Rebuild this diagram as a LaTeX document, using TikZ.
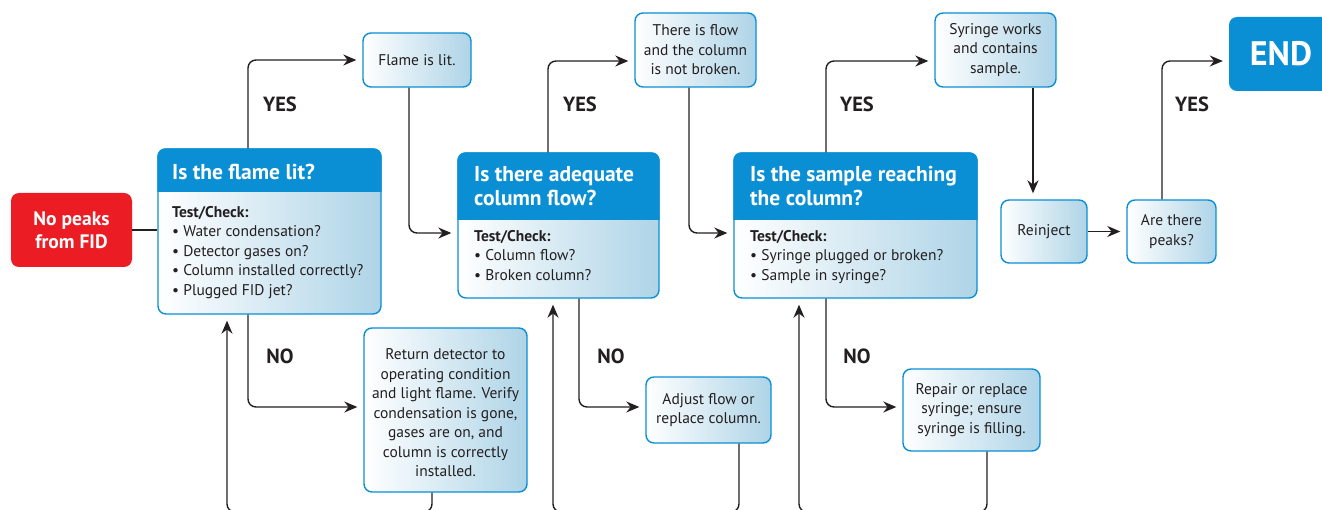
\documentclass[tikz,border=0pt]{standalone}
\usepackage{fontspec}
\setmainfont{PT Sans}
\usetikzlibrary{arrows.meta,calc}
\definecolor{bl}{HTML}{0A8FD5}
\definecolor{lb}{HTML}{AED4E7}
\definecolor{rd}{HTML}{EC1C24}
\definecolor{ink}{HTML}{231F20}
\tikzset{
  box/.style={draw=bl, line width=1.4pt, rounded corners=8pt, left color=white, right color=lb,
    inner sep=0pt, align=center, text=ink, font=\fontsize{15.5}{19.5}\selectfont},
  dec/.style={draw=bl, line width=1.4pt, rounded corners=8pt, left color=white, right color=lb, inner sep=0pt},
  redbox/.style={fill=rd, rounded corners=8pt, inner sep=0pt, align=center, text=white,
    font=\fontsize{19.5}{23}\selectfont\bfseries},
  endbox/.style={fill=bl, rounded corners=8pt, inner sep=0pt, text=white,
    font=\fontsize{34}{38}\selectfont\bfseries},
  htext/.style={inner sep=0pt, align=left, text=white, font=\fontsize{21.5}{24.5}\selectfont\bfseries},
  btext/.style={inner sep=0pt, align=left, text=ink, font=\fontsize{15.5}{19.5}\selectfont},
  conn/.style={draw=ink, line width=1.4pt, rounded corners=8pt},
  arr/.style={conn, -{Stealth[length=13pt,width=11pt]}, shorten >=6pt},
  lab/.style={inner sep=0pt, text=ink, font=\fontsize{20.5}{24}\selectfont\bfseries}
}
\begin{document}
\begin{tikzpicture}[x=1pt,y=-1pt]
\useasboundingbox (0,0) rectangle (1322,510);
\clip (0,0) rectangle (1322,510);
\fill[white] (0,0) rectangle (1322,510);

% start
\node[redbox, minimum width=121pt, minimum height=74pt] (start) at (71.5,230) {No peaks\\from FID};

% decision boxes
\node[dec, minimum width=223pt, minimum height=165pt] (d1) at (269.5,231.5) {};
\fill[bl] (d1.west |- 0,192) [rounded corners=8pt] -- (d1.north west) -- (d1.north east) [sharp corners] -- (d1.east |- 0,192) -- cycle;
\node[htext, anchor=north west] (d1h) at (172,164) {Is the flame lit?};
\node[btext, anchor=north west] (d1b) at (172,206) {\textbf{Test/Check:}\\\textbullet\ Water condensation?\\\textbullet\ Detector gases on?\\\textbullet\ Column installed correctly?\\\textbullet\ Plugged FID jet?};

\node[dec, minimum width=201pt, minimum height=145pt] (d2) at (558.5,225.5) {};
\fill[bl] (d2.west |- 0,220) [rounded corners=8pt] -- (d2.north west) -- (d2.north east) [sharp corners] -- (d2.east |- 0,220) -- cycle;
\node[htext, anchor=north west] (d2h) at (474,166) {Is there adequate\\column flow?};
\node[btext, anchor=north west] (d2b) at (474,230) {\textbf{Test/Check:}\\\textbullet\ Column flow?\\\textbullet\ Broken column?};

\node[dec, minimum width=243pt, minimum height=145pt] (d3) at (855.5,225.5) {};
\fill[bl] (d3.west |- 0,220) [rounded corners=8pt] -- (d3.north west) -- (d3.north east) [sharp corners] -- (d3.east |- 0,220) -- cycle;
\node[htext, anchor=north west] (d3h) at (750,166) {Is the sample reaching\\the column?};
\node[btext, anchor=north west] (d3b) at (750,230) {\textbf{Test/Check:}\\\textbullet\ Syringe plugged or broken?\\\textbullet\ Sample in syringe?};

% result boxes
\node[box, minimum width=108pt, minimum height=54pt] (lit) at (417,60) {Flame is lit.};
\node[box, minimum width=121pt, minimum height=74pt] (flow) at (695.5,50) {There is flow\\and the column\\is not broken.};
\node[box, minimum width=121pt, minimum height=74pt] (syr) at (995.5,50) {Syringe works\\and contains\\sample.};
\node[box, minimum width=86pt, minimum height=63pt] (rein) at (1044,231.5) {\raisebox{-1.5pt}{Reinject}};
\node[box, minimum width=89pt, minimum height=63pt] (peaks) at (1171.5,231.5) {Are there\\peaks?};
\node[endbox, minimum width=104pt, minimum height=74pt] (end) at (1281,54) {END};
\node[box, minimum width=163pt, minimum height=164pt] (ret) at (445.5,410) {};
\node[btext, align=center] (rett) at (445.5,413) {Return detector to\\operating condition\\and light flame. Verify\\condensation is gone,\\gases are on, and\\column is correctly\\installed.};
\node[box, minimum width=125pt, minimum height=66pt] (adj) at (708.5,410) {Adjust flow or\\replace column.};
\node[box, minimum width=137pt, minimum height=82pt] (rep) at (971.5,410) {Repair or replace\\syringe; ensure\\syringe is filling.};

% connectors
\draw[conn] (start.east) -- (start.east -| d1.west);
\draw[arr] (d1.north -| 248,0) |- (lit.west);
\draw[arr] (lit.south -| 409,0) |- (d2.west |- 0,233);
\draw[arr] (d2.north -| 548,0) |- (flow.west |- 0,61);
\draw[arr] (flow.south -| 689,0) |- (d3.west |- 0,233);
\draw[arr] (d3.north -| 826,0) |- (syr.west |- 0,61);
\draw[arr] (syr.south -| 1033,0) -- (rein.north -| 1033,0);
\draw[arr] (rein.east) -- (peaks.west |- rein.east);
\draw[arr] (peaks.north -| 1162,0) |- (end.west |- 0,61);

\draw[arr] (d1.south -| 248,0) |- (ret.west |- 0,407);
\draw[arr] (d2.south -| 579,0) |- (adj.west |- 0,407);
\draw[arr] (d3.south -| 826,0) |- (rep.west |- 0,407);

\draw[arr] (ret.south -| 432,0) -- (432,512) -- (227,512) -- (d1.south -| 227,0);
\draw[arr] (adj.south -| 739,0) -- (739,512) -- (553,512) -- (d2.south -| 553,0);
\draw[arr] (rep.south -| 987,0) -- (987,512) -- (799,512) -- (d3.south -| 799,0);

% labels
\node[lab] (y1) at (280,104) {YES};
\node[lab] (y2) at (580,104) {YES};
\node[lab] (y3) at (857,104) {YES};
\node[lab] (y4) at (1192,104) {YES};
\node[lab] (n1) at (280,356) {NO};
\node[lab] (n2) at (611,356) {NO};
\node[lab] (n3) at (857,356) {NO};
\end{tikzpicture}
\end{document}
